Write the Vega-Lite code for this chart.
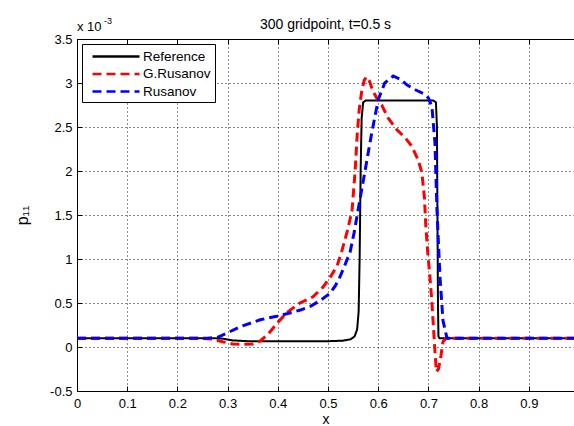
{
  "$schema": "https://vega.github.io/schema/vega-lite/v6.json",
  "width": 497,
  "height": 352,
  "autosize": {"type": "none"},
  "padding": {"left": 77, "top": 39, "right": 0, "bottom": 35},
  "background": "white",
  "config": {
    "font": "Liberation Sans",
    "view": {"stroke": "black", "strokeWidth": 1},
    "axis": {
      "domainColor": "black",
      "tickColor": "black",
      "tickSize": -5,
      "labelColor": "black",
      "labelFontSize": 13,
      "labelFont": "Liberation Sans",
      "titleFont": "Liberation Sans",
      "titleFontSize": 14,
      "titleFontWeight": "normal",
      "titleColor": "black",
      "gridColor": "black",
      "gridDash": [1, 3],
      "gridOpacity": 0.9,
      "gridWidth": 1
    }
  },
  "title": {
    "text": "300 gridpoint, t=0.5 s",
    "fontSize": 14,
    "fontWeight": "normal",
    "font": "Liberation Sans",
    "color": "black",
    "offset": 0,
    "dy": 15
  },
  "resolve": {"axis": {"x": "independent"}},
  "datasets": {
    "ref": [
      {"x": 0, "y": 0.1, "s": "Reference"},
      {"x": 0.27, "y": 0.1, "s": "Reference"},
      {"x": 0.29, "y": 0.095, "s": "Reference"},
      {"x": 0.31, "y": 0.075, "s": "Reference"},
      {"x": 0.34, "y": 0.066, "s": "Reference"},
      {"x": 0.4, "y": 0.065, "s": "Reference"},
      {"x": 0.5, "y": 0.066, "s": "Reference"},
      {"x": 0.53, "y": 0.072, "s": "Reference"},
      {"x": 0.545, "y": 0.088, "s": "Reference"},
      {"x": 0.553, "y": 0.12, "s": "Reference"},
      {"x": 0.558, "y": 0.2, "s": "Reference"},
      {"x": 0.561, "y": 0.4, "s": "Reference"},
      {"x": 0.563, "y": 1.0, "s": "Reference"},
      {"x": 0.565, "y": 2.0, "s": "Reference"},
      {"x": 0.567, "y": 2.6, "s": "Reference"},
      {"x": 0.57, "y": 2.78, "s": "Reference"},
      {"x": 0.575, "y": 2.8, "s": "Reference"},
      {"x": 0.71, "y": 2.8, "s": "Reference"},
      {"x": 0.715, "y": 2.78, "s": "Reference"},
      {"x": 0.717, "y": 2.5, "s": "Reference"},
      {"x": 0.718, "y": 1.5, "s": "Reference"},
      {"x": 0.719, "y": 0.5, "s": "Reference"},
      {"x": 0.72, "y": 0.12, "s": "Reference"},
      {"x": 0.722, "y": 0.1, "s": "Reference"},
      {"x": 1.0, "y": 0.1, "s": "Reference"}
    ],
    "gr": [
      {"x": 0, "y": 0.1, "s": "G.Rusanov"},
      {"x": 0.24, "y": 0.1, "s": "G.Rusanov"},
      {"x": 0.27, "y": 0.09, "s": "G.Rusanov"},
      {"x": 0.29, "y": 0.06, "s": "G.Rusanov"},
      {"x": 0.31, "y": 0.035, "s": "G.Rusanov"},
      {"x": 0.33, "y": 0.03, "s": "G.Rusanov"},
      {"x": 0.35, "y": 0.035, "s": "G.Rusanov"},
      {"x": 0.365, "y": 0.07, "s": "G.Rusanov"},
      {"x": 0.38, "y": 0.14, "s": "G.Rusanov"},
      {"x": 0.4, "y": 0.28, "s": "G.Rusanov"},
      {"x": 0.42, "y": 0.4, "s": "G.Rusanov"},
      {"x": 0.444, "y": 0.5, "s": "G.Rusanov"},
      {"x": 0.47, "y": 0.57, "s": "G.Rusanov"},
      {"x": 0.49, "y": 0.68, "s": "G.Rusanov"},
      {"x": 0.505, "y": 0.8, "s": "G.Rusanov"},
      {"x": 0.518, "y": 0.92, "s": "G.Rusanov"},
      {"x": 0.528, "y": 1.1, "s": "G.Rusanov"},
      {"x": 0.54, "y": 1.35, "s": "G.Rusanov"},
      {"x": 0.548, "y": 1.56, "s": "G.Rusanov"},
      {"x": 0.554, "y": 2.0, "s": "G.Rusanov"},
      {"x": 0.558, "y": 2.4, "s": "G.Rusanov"},
      {"x": 0.562, "y": 2.69, "s": "G.Rusanov"},
      {"x": 0.567, "y": 2.9, "s": "G.Rusanov"},
      {"x": 0.572, "y": 3.03, "s": "G.Rusanov"},
      {"x": 0.577, "y": 3.07, "s": "G.Rusanov"},
      {"x": 0.582, "y": 3.03, "s": "G.Rusanov"},
      {"x": 0.59, "y": 2.9, "s": "G.Rusanov"},
      {"x": 0.6, "y": 2.8, "s": "G.Rusanov"},
      {"x": 0.607, "y": 2.75, "s": "G.Rusanov"},
      {"x": 0.62, "y": 2.6, "s": "G.Rusanov"},
      {"x": 0.637, "y": 2.47, "s": "G.Rusanov"},
      {"x": 0.655, "y": 2.37, "s": "G.Rusanov"},
      {"x": 0.667, "y": 2.28, "s": "G.Rusanov"},
      {"x": 0.68, "y": 2.12, "s": "G.Rusanov"},
      {"x": 0.687, "y": 1.98, "s": "G.Rusanov"},
      {"x": 0.692, "y": 1.7, "s": "G.Rusanov"},
      {"x": 0.695, "y": 1.36, "s": "G.Rusanov"},
      {"x": 0.699, "y": 1.05, "s": "G.Rusanov"},
      {"x": 0.703, "y": 0.8, "s": "G.Rusanov"},
      {"x": 0.707, "y": 0.5, "s": "G.Rusanov"},
      {"x": 0.71, "y": 0.23, "s": "G.Rusanov"},
      {"x": 0.713, "y": -0.05, "s": "G.Rusanov"},
      {"x": 0.716, "y": -0.28, "s": "G.Rusanov"},
      {"x": 0.72, "y": -0.25, "s": "G.Rusanov"},
      {"x": 0.725, "y": -0.1, "s": "G.Rusanov"},
      {"x": 0.729, "y": 0.06, "s": "G.Rusanov"},
      {"x": 0.735, "y": 0.1, "s": "G.Rusanov"},
      {"x": 1.0, "y": 0.1, "s": "G.Rusanov"}
    ],
    "ru": [
      {"x": 0, "y": 0.1, "s": "Rusanov"},
      {"x": 0.26, "y": 0.1, "s": "Rusanov"},
      {"x": 0.28, "y": 0.11, "s": "Rusanov"},
      {"x": 0.3, "y": 0.16, "s": "Rusanov"},
      {"x": 0.31, "y": 0.19, "s": "Rusanov"},
      {"x": 0.33, "y": 0.24, "s": "Rusanov"},
      {"x": 0.365, "y": 0.31, "s": "Rusanov"},
      {"x": 0.398, "y": 0.35, "s": "Rusanov"},
      {"x": 0.42, "y": 0.38, "s": "Rusanov"},
      {"x": 0.445, "y": 0.42, "s": "Rusanov"},
      {"x": 0.464, "y": 0.46, "s": "Rusanov"},
      {"x": 0.485, "y": 0.53, "s": "Rusanov"},
      {"x": 0.504, "y": 0.61, "s": "Rusanov"},
      {"x": 0.515, "y": 0.7, "s": "Rusanov"},
      {"x": 0.524, "y": 0.8, "s": "Rusanov"},
      {"x": 0.535, "y": 0.95, "s": "Rusanov"},
      {"x": 0.544, "y": 1.08, "s": "Rusanov"},
      {"x": 0.552, "y": 1.3, "s": "Rusanov"},
      {"x": 0.56, "y": 1.56, "s": "Rusanov"},
      {"x": 0.574, "y": 2.01, "s": "Rusanov"},
      {"x": 0.587, "y": 2.43, "s": "Rusanov"},
      {"x": 0.6, "y": 2.81, "s": "Rusanov"},
      {"x": 0.613, "y": 3.0, "s": "Rusanov"},
      {"x": 0.63, "y": 3.08, "s": "Rusanov"},
      {"x": 0.645, "y": 3.04, "s": "Rusanov"},
      {"x": 0.657, "y": 2.98, "s": "Rusanov"},
      {"x": 0.675, "y": 2.92, "s": "Rusanov"},
      {"x": 0.69, "y": 2.88, "s": "Rusanov"},
      {"x": 0.7, "y": 2.83, "s": "Rusanov"},
      {"x": 0.707, "y": 2.73, "s": "Rusanov"},
      {"x": 0.713, "y": 2.32, "s": "Rusanov"},
      {"x": 0.717, "y": 1.56, "s": "Rusanov"},
      {"x": 0.723, "y": 0.8, "s": "Rusanov"},
      {"x": 0.729, "y": 0.3, "s": "Rusanov"},
      {"x": 0.737, "y": 0.1, "s": "Rusanov"},
      {"x": 1.0, "y": 0.1, "s": "Rusanov"}
    ]
  },
  "layer": [
    {
      "data": {"name": "ref"},
      "mark": {"type": "line", "strokeWidth": 2, "clip": true, "interpolate": "linear"},
      "encoding": {
        "x": {
          "field": "x", "type": "quantitative",
          "scale": {"domain": [0, 0.99], "nice": false, "zero": false},
          "axis": {"values": [0, 0.1, 0.2, 0.3, 0.4, 0.5, 0.6, 0.7, 0.8, 0.9], "labelExpr": "'' + datum.value", "title": "x", "titlePadding": 2, "labelPadding": 11, "labelFlush": false}
        },
        "y": {
          "field": "y", "type": "quantitative",
          "scale": {"domain": [-0.5, 3.5], "nice": false, "zero": false},
          "axis": {"values": [-0.5, 0, 0.5, 1, 1.5, 2, 2.5, 3, 3.5], "labelExpr": "'' + datum.value", "title": "p₁₁", "titleFontSize": 16, "titleAngle": -90, "titleX": -55, "titleY": 176, "titleAlign": "center", "titleBaseline": "middle", "labelPadding": 10, "labelFlush": false}
        },
        "color": {
          "field": "s", "type": "nominal",
          "scale": {"domain": ["Reference", "G.Rusanov", "Rusanov"], "range": ["black", "red", "blue"]},
          "legend": {
            "title": null, "orient": "none", "legendX": 5, "legendY": 5,
            "symbolType": "M-0.286,0H6.43", "symbolSize": 196, "symbolStrokeWidth": 2.5,
            "labelFontSize": 13.5, "labelFont": "Liberation Sans", "labelColor": "black", "labelOffset": 40,
            "fillColor": "white", "strokeColor": "black", "padding": 4, "rowPadding": 2.5
          }
        },
        "strokeDash": {
          "field": "s", "type": "nominal",
          "scale": {"domain": ["Reference", "G.Rusanov", "Rusanov"], "range": [[1, 0], [9, 5], [9, 5]]},
          "legend": {
            "title": null, "orient": "none", "legendX": 5, "legendY": 5,
            "symbolType": "M-0.286,0H6.43", "symbolSize": 196, "symbolStrokeWidth": 2.5,
            "labelFontSize": 13.5, "labelFont": "Liberation Sans", "labelColor": "black", "labelOffset": 40,
            "fillColor": "white", "strokeColor": "black", "padding": 4, "rowPadding": 2.5
          }
        }
      }
    },
    {
      "data": {"name": "gr"},
      "mark": {"type": "line", "strokeWidth": 3, "clip": true},
      "encoding": {
        "x": {"field": "x", "type": "quantitative", "axis": null},
        "y": {"field": "y", "type": "quantitative"},
        "color": {"field": "s", "type": "nominal"},
        "strokeDash": {"field": "s", "type": "nominal"}
      }
    },
    {
      "data": {"name": "ru"},
      "mark": {"type": "line", "strokeWidth": 3, "clip": true},
      "encoding": {
        "x": {"field": "x", "type": "quantitative", "axis": null},
        "y": {"field": "y", "type": "quantitative"},
        "color": {"field": "s", "type": "nominal"},
        "strokeDash": {"field": "s", "type": "nominal"}
      }
    },
    {
      "data": {"values": [{"t": "x 10"}]},
      "mark": {"type": "text", "align": "left", "baseline": "alphabetic", "dy": -8, "fontSize": 13, "color": "black", "font": "Liberation Sans"},
      "encoding": {
        "x": {"datum": 0, "type": "quantitative", "axis": null},
        "y": {"datum": 3.5, "type": "quantitative"},
        "text": {"field": "t"}
      }
    },
    {
      "data": {"values": [{"t": "-3"}]},
      "mark": {"type": "text", "align": "left", "baseline": "alphabetic", "dx": 27, "dy": -15, "fontSize": 9, "color": "black", "font": "Liberation Sans"},
      "encoding": {
        "x": {
          "datum": 0, "type": "quantitative",
          "axis": {"orient": "top", "values": [0, 0.1, 0.2, 0.3, 0.4, 0.5, 0.6, 0.7, 0.8, 0.9], "labels": false, "grid": false, "domain": false, "title": null, "tickSize": -5}
        },
        "y": {"datum": 3.5, "type": "quantitative"},
        "text": {"field": "t"}
      }
    }
  ]
}
